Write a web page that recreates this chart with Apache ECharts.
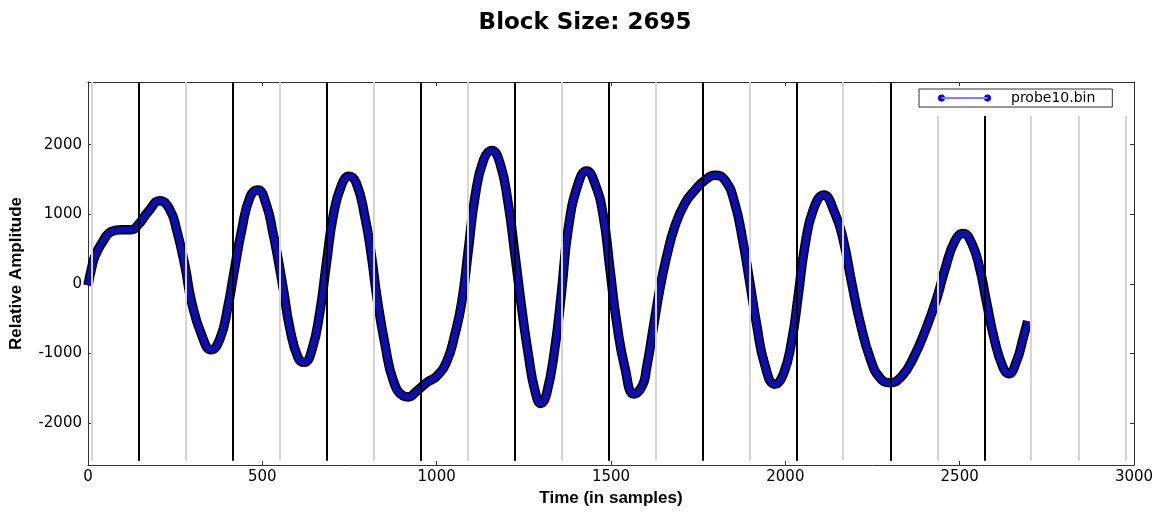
<!DOCTYPE html>
<html>
<head>
<meta charset="utf-8">
<title>Block Size: 2695</title>
<script src="https://cdn.jsdelivr.net/npm/echarts@6/dist/echarts.min.js"></script>
<style>
  html, body { margin: 0; padding: 0; background: #fff; }
  #chart { width: 1170px; height: 512px; }
</style>
</head>
<body>
<div id="chart"></div>
<script>
  // samples (time in samples, relative amplitude)
  const sampleIdx = [
    0, 10, 20, 40, 68, 97, 125, 144, 173, 206, 235, 254, 278, 297, 326, 353, 379, 402, 417, 441,
    465, 487, 512, 531, 541, 560, 579, 603, 620, 641, 665, 684, 703, 727, 749, 770, 794, 813, 828, 852,
    876, 904, 919, 943, 971, 1000, 1029, 1052, 1072, 1091, 1110, 1134, 1158, 1182, 1205, 1225, 1244, 1263, 1282, 1299,
    1315, 1339, 1358, 1377, 1406, 1430, 1454, 1478, 1497, 1516, 1540, 1566, 1590, 1602, 1621, 1640, 1660, 1683, 1712, 1741,
    1769, 1798, 1827, 1855, 1879, 1898, 1918, 1941, 1970, 1994, 2018, 2037, 2056, 2080, 2110, 2142, 2166, 2190, 2214, 2243,
    2271, 2300, 2334, 2367, 2400, 2434, 2458, 2486, 2510, 2534, 2558, 2577, 2601, 2625, 2641, 2663, 2682, 2695
  ];
  const amplitude = [
    -20, 220, 400, 590, 756, 780, 780, 850, 1040, 1196, 1064, 780, 260, -256, -733, -946, -780, -307, 118, 780,
    1253, 1350, 1130, 720, 470, -70, -640, -1064, -1125, -969, -402, 307, 969, 1418, 1546, 1442, 969, 402, -165, -875,
    -1395, -1607, -1622, -1536, -1418, -1324, -1111, -730, -260, 496, 1253, 1773, 1915, 1726, 1159, 402, -355, -1017, -1536, -1716,
    -1584, -922, -118, 780, 1442, 1621, 1442, 969, 213, -543, -1206, -1580, -1460, -1206, -638, -71, 402, 827, 1159, 1348,
    1489, 1560, 1489, 1159, 591, 24, -591, -1159, -1442, -1300, -827, -165, 543, 1064, 1277, 1017, 638, 24, -543, -1064,
    -1348, -1418, -1324, -1064, -686, -213, 213, 615, 723, 591, 213, -260, -827, -1206, -1291, -1111, -780, -535
  ];

  // block marker positions (black) and sub-block positions (grey)
  const blockLines = [146, 416, 685, 955, 1224, 1494, 1763, 2033, 2302, 2572];
  const subLines = [10, 280, 549, 819, 1088, 1358, 1627, 1897, 2166, 2436, 2705, 2842, 2975];

  const yTicks = [-2000, -1000, 0, 1000, 2000];
  const xTicks = [0, 500, 1000, 1500, 2000, 2500, 3000];

  const Y_MIN = -2600;
  const Y_MAX = 2900;
  const LINE_BOTTOM = -2540;
  const LEGEND_X = 2380; // lines under the legend box stop below it
  const LEGEND_TOP = 2410;

  const curve = sampleIdx.map((x, i) => [x, amplitude[i]]);

  const vLine = (x, color) => [
    { coord: [x, LINE_BOTTOM], lineStyle: { color, width: 2, type: 'solid' } },
    { coord: [x, x > LEGEND_X ? LEGEND_TOP : Y_MAX] },
  ];

  const chart = echarts.init(document.getElementById('chart'));

  const frame = { show: true, onZero: false, lineStyle: { color: '#333', width: 1 } };
  const tick = { show: true, inside: true, length: 4, lineStyle: { color: '#333' } };
  const tickFont = { color: '#000', fontSize: 15, fontFamily: 'DejaVu Sans', formatter: (v) => String(v) };

  const option = {
    animation: false,
    backgroundColor: '#fff',
    title: {
      text: 'Block Size: 2695',
      left: 'center',
      top: 7,
      textStyle: { fontSize: 23, fontWeight: 'bold', fontFamily: 'DejaVu Sans', color: '#000' },
    },
    legend: {
      left: 919,
      top: 89,
      padding: [2, 17, 2, 19],
      itemWidth: 53,
      itemHeight: 7,
      itemGap: 0,
      backgroundColor: '#fff',
      borderColor: '#333',
      borderWidth: 1,
      borderRadius: 0,
      data: [{
        name: 'probe10.bin',
        icon: 'path://M0,3.5a3.5,3.5 0 1,0 7,0a3.5,3.5 0 1,0 -7,0zM46,3.5a3.5,3.5 0 1,0 7,0a3.5,3.5 0 1,0 -7,0zM3.5,3h46v1h-46z',
        itemStyle: { color: '#0000ff', borderWidth: 0 },
      }],
      textStyle: { fontSize: 14, fontFamily: 'DejaVu Sans', color: '#000', padding: [0, 0, 0, 15], lineHeight: 14 },
    },
    grid: { left: 88, right: 36, top: 82, bottom: 45, containLabel: false },
    xAxis: [
      {
        type: 'value',
        min: 0,
        max: 3000,
        interval: 500,
        name: 'Time (in samples)',
        nameLocation: 'middle',
        nameGap: 25,
        nameTextStyle: { fontSize: 17, fontWeight: 'bold', fontFamily: 'Liberation Sans', color: '#000', verticalAlign: 'top' },
        axisLine: frame,
        axisTick: tick,
        axisLabel: Object.assign({ margin: 5, customValues: xTicks }, tickFont),
        splitLine: { show: false },
      },
      {
        type: 'value',
        position: 'top',
        min: 0,
        max: 3000,
        interval: 500,
        axisLine: frame,
        axisTick: tick,
        axisLabel: { show: false },
        splitLine: { show: false },
      },
    ],
    yAxis: [
      {
        type: 'value',
        min: Y_MIN,
        max: Y_MAX,
        name: 'Relative Amplitude',
        nameLocation: 'middle',
        nameGap: 63,
        nameTextStyle: { fontSize: 17, fontWeight: 'bold', fontFamily: 'Liberation Sans', color: '#000' },
        axisLine: frame,
        axisTick: Object.assign({ customValues: yTicks }, tick),
        axisLabel: Object.assign({ margin: 6, customValues: yTicks }, tickFont),
        splitLine: { show: false },
      },
      {
        type: 'value',
        position: 'right',
        min: Y_MIN,
        max: Y_MAX,
        axisLine: frame,
        axisTick: Object.assign({ customValues: yTicks }, tick),
        axisLabel: { show: false, customValues: yTicks },
        splitLine: { show: false },
      },
    ],
    series: [
      {
        name: 'probe10.bin',
        type: 'line',
        data: curve,
        smooth: 0.5,
        showSymbol: false,
        z: 2,
        lineStyle: { color: '#03031a', width: 9.5 },
        itemStyle: { color: '#0000ff' },
      },
      {
        name: 'core',
        type: 'line',
        data: curve,
        smooth: 0.5,
        showSymbol: false,
        z: 3,
        lineStyle: { color: '#0d0db0', width: 6 },
        itemStyle: { color: '#0000ff' },
      },
      {
        name: 'markers',
        type: 'line',
        data: [],
        z: 4,
        markLine: {
          silent: true,
          symbol: ['none', 'none'],
          label: { show: false },
          lineStyle: { type: 'solid' },
          data: subLines.map((x) => vLine(x, '#d6d6d6')).concat(blockLines.map((x) => vLine(x, '#000'))),
        },
      },
    ],
  };

  chart.setOption(option);
</script>
</body>
</html>
